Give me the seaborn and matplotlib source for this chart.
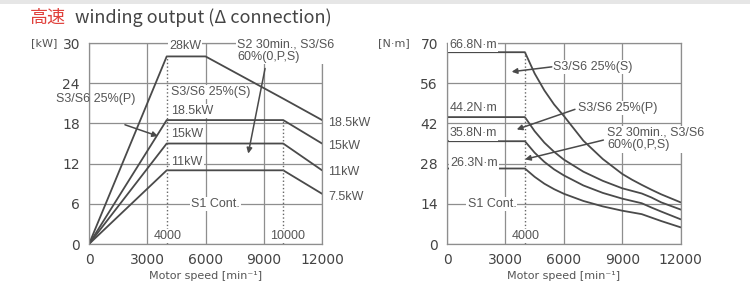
import seaborn as sns
from matplotlib import pyplot as plt
from matplotlib.patches import Rectangle
import pandas as pd

# power chart (left), kW
speed_kw = [0, 4000, 6000, 10000, 12000]
kw_s3_25_s = [0, 28, 28, 21.7, 18.5]
kw_s3_25_p = [0, 18.5, 18.5, 18.5, 15]
kw_s2_60 = [0, 15, 15, 15, 11]
kw_s1 = [0, 11, 11, 11, 7.5]

# torque chart (right), N·m
speed_nm = [0, 4000, 4500, 5000, 5500, 6000, 7000, 8000, 9000, 9500, 10000, 10500, 11000, 12000]
nm_s3_25_s = [66.8, 66.8, 59.4, 53.5, 48.6, 44.6, 36.0, 29.6, 24.4, 22.4, 20.6, 18.9, 17.3, 14.5]
nm_s3_25_p = [44.2, 44.2, 39.3, 35.3, 32.1, 29.4, 25.2, 22.0, 19.4, 18.5, 17.6, 16.2, 14.5, 12.0]
nm_s2_60 = [35.8, 35.8, 31.8, 28.6, 26.0, 23.9, 20.4, 17.8, 15.8, 15.0, 14.2, 12.7, 11.3, 8.6]
nm_s1 = [26.3, 26.3, 23.4, 21.0, 19.1, 17.5, 15.0, 13.1, 11.6, 11.0, 10.4, 9.2, 8.0, 5.8]

speed_ticks = [0, 3000, 6000, 9000, 12000]
kw_ticks = [0, 6, 12, 18, 24, 30]
nm_ticks = [0, 14, 28, 42, 56, 70]

sns.set_style("white")
plt.rcParams['font.family'] = ['DejaVu Sans']

LINE = '#4a4a4a'
GRID = '#8e8e8e'
TXT = '#555555'
ANN = 'Liberation Sans'
box = dict(facecolor='white', edgecolor='none', pad=0.8)

fig = plt.figure(figsize=(7.5, 2.84), dpi=100)
fig.patches.append(Rectangle((0, 0.985), 1, 0.015, transform=fig.transFigure,
                             facecolor='#e6e6e6', edgecolor='none'))
fig.text(0.04, 0.937, '高速', color='#e0413c', fontsize=13,
         family=['Noto Sans CJK JP'], va='center', ha='left')
fig.text(0.1, 0.937, 'winding output (Δ connection)', color='#444444', fontsize=13,
         family=['Noto Sans CJK JP', 'DejaVu Sans'], va='center', ha='left')

ax1 = fig.add_axes([0.1187, 0.1408, 0.3107, 0.7077])
ax2 = fig.add_axes([0.596, 0.1408, 0.3116, 0.7077])


def style_axes(ax, yticks):
    ax.set_xlim(0, 12000)
    ax.set_ylim(yticks[0], yticks[-1])
    ax.set_xticks(speed_ticks)
    ax.set_yticks(yticks)
    ax.grid(True, color=GRID, lw=0.9)
    ax.set_axisbelow(True)
    for s in ax.spines.values():
        s.set_color(GRID)
        s.set_linewidth(0.9)
    ax.tick_params(length=0, labelsize=10, colors='#444444', pad=6.5)
    ax.set_xlabel('Motor speed [min⁻¹]', fontsize=8, color=TXT, labelpad=3)
    ax.set_ylabel('')


def arrow(ax, start, end):
    ax.annotate('', xy=end, xytext=start,
                arrowprops=dict(arrowstyle='-|>', color=LINE, lw=1.1,
                                mutation_scale=8, shrinkA=0, shrinkB=0))


def label(ax, x, y, s, ha='center', bg=True, **kw):
    ax.text(x, y, s, ha=ha, va='center', fontsize=9, color=TXT, family=ANN,
            bbox=box if bg else None, **kw)


# ---- left: output power
for vals in [kw_s3_25_s, kw_s3_25_p, kw_s2_60, kw_s1]:
    sns.lineplot(x=speed_kw, y=vals, ax=ax1, color=LINE, lw=1.3,
                 estimator=None, sort=False)
ax1.plot([4000, 4000], [0, 28], ls=':', color='#666666', lw=1)
ax1.plot([10000, 10000], [0, 18.5], ls=':', color='#666666', lw=1)
style_axes(ax1, kw_ticks)
ax1.text(-0.135, 30, '[kW]', transform=ax1.get_yaxis_transform(), ha='right',
         va='center', fontsize=8, color=TXT)

label(ax1, 4950, 29.5, '28kW')
label(ax1, 7620, 28.8, 'S2 30min., S3/S6\n60%(0,P,S)', ha='left', linespacing=1.05)
arrow(ax1, (9065, 26.2), (8200, 13.5))
label(ax1, 6280, 22.7, 'S3/S6 25%(S)')
label(ax1, 350, 21.7, 'S3/S6 25%(P)', bg=False)
arrow(ax1, (1850, 17.8), (3550, 16.1))
label(ax1, 4250, 19.9, '18.5kW', ha='left')
label(ax1, 4250, 16.4, '15kW', ha='left')
label(ax1, 4250, 12.3, '11kW', ha='left')
label(ax1, 6490, 6, 'S1 Cont.')
label(ax1, 4070, 1.2, '4000')
label(ax1, 10220, 1.2, '10000')
for y, s in [(18.1, '18.5kW'), (14.6, '15kW'), (10.8, '11kW'), (7.0, '7.5kW')]:
    label(ax1, 12310, y, s, ha='left', bg=False)

# ---- right: torque
for vals in [nm_s3_25_s, nm_s3_25_p, nm_s2_60, nm_s1]:
    sns.lineplot(x=speed_nm, y=vals, ax=ax2, color=LINE, lw=1.3,
                 estimator=None, sort=False)
ax2.plot([4000, 4000], [0, 66.8], ls=':', color='#666666', lw=1)
style_axes(ax2, nm_ticks)
ax2.text(-0.158, 70, '[N·m]', transform=ax2.get_yaxis_transform(), ha='right',
         va='center', fontsize=8, color=TXT)

label(ax2, 100, 69.3, '66.8N·m', ha='left')
label(ax2, 5450, 61.6, 'S3/S6 25%(S)', ha='left')
arrow(ax2, (5380, 61.7), (3320, 60.0))
label(ax2, 150, 47.4, '44.2N·m', ha='left')
label(ax2, 6730, 47.4, 'S3/S6 25%(P)', ha='left')
arrow(ax2, (6570, 46.9), (3580, 39.9))
label(ax2, 150, 38.5, '35.8N·m', ha='left')
label(ax2, 8220, 36.5, 'S2 30min., S3/S6\n60%(0,P,S)', ha='left', linespacing=1.05)
arrow(ax2, (8030, 36.2), (4005, 29.5))
label(ax2, 150, 28.2, '26.3N·m', ha='left')
label(ax2, 2310, 14, 'S1 Cont.')
label(ax2, 4060, 2.8, '4000')

plt.savefig('out.png', dpi=100)
